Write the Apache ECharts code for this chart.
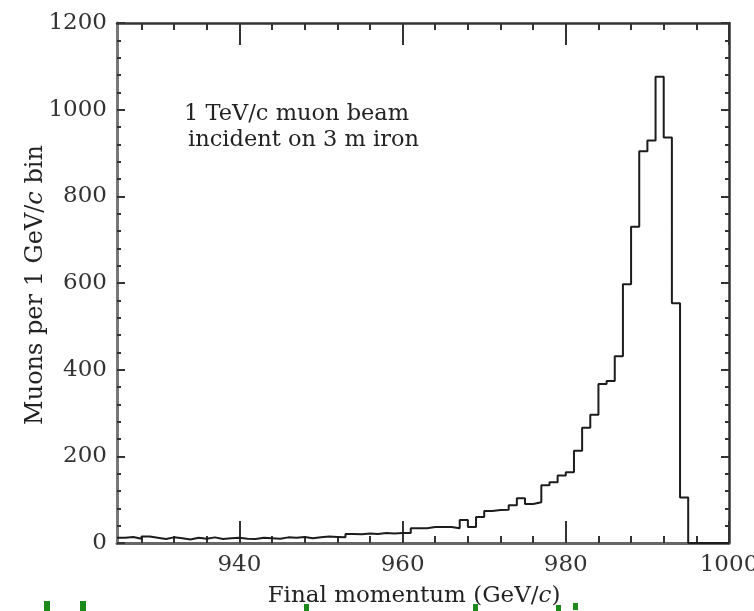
<!DOCTYPE html>
<html><head><meta charset="utf-8">
<script src="https://cdn.jsdelivr.net/npm/echarts@6/dist/echarts.min.js"></script>
<style>html,body{margin:0;padding:0;background:#fff}#c{width:754px;height:611px}</style>
</head><body><div id="c"></div>
<script>
// Histogram: 1 GeV/c bins starting at binStart
const binStart = 925;
const counts = [
  12, 14, 10, 15, 12, 9, 13, 11, 8, 12,      // 925-934
  10, 13, 9, 11, 12, 10, 9, 12, 11, 10,      // 935-944
  13, 12, 14, 11, 13, 15, 14, 13, 21, 20,    // 945-954
  22, 21, 23, 22, 23, 23, 34, 34, 37, 37,    // 955-964
  37, 34, 53, 37, 60, 74, 76, 77, 87, 103,   // 965-974
  90, 94, 133, 140, 156, 163, 213, 266, 296, 367, // 975-984
  374, 431, 597, 730, 904, 929, 1076, 936, 553, 105 // 985-994
];
const xMin = 925, xMax = 1000;
const xMajorTicks = [940, 960, 980, 1000];
const xMinorTicks = [928, 932, 936, 944, 948, 952, 956, 964, 968, 972, 976, 984, 988, 992, 996];
const yMin = 0, yMax = 1200, yStep = 200;
const annotationLines = ['1 TeV/c muon beam', 'incident on 3 m iron'];
const xTitle = 'Final momentum (GeV/{i|c})';
const yTitle = 'Muons per 1 GeV/{i|c} bin';

const serif = 'DejaVu Serif';
const pts = counts.map((c, i) => [binStart + i, c]);
pts.push([binStart + counts.length, 0]);
pts.push([xMax, 0]);

const chart = echarts.init(document.getElementById('c'), null, {renderer: 'canvas'});
const tickStyle = {color: '#333', width: 2};
const labelStyle = {fontFamily: serif, fontSize: 23, color: '#333', formatter: v => String(v)};
function xAx(pos, major, showLine, lineColor, lineWidth, showLabel) {
  return {
    type: 'value', position: pos, min: xMin, max: xMax,
    axisLine: {show: showLine, onZero: false, lineStyle: {color: lineColor, width: lineWidth}},
    axisTick: {show: true, inside: true, length: major ? 22 : 7, lineStyle: tickStyle,
               customValues: major ? xMajorTicks : xMinorTicks},
    axisLabel: showLabel ? Object.assign({show: true, margin: 11, customValues: xMajorTicks, hideOverlap: false}, labelStyle) : {show: false},
    splitLine: {show: false}
  };
}
function yAx(pos, showLabel, lineColor, lineWidth) {
  return {
    type: 'value', position: pos, min: yMin, max: yMax, interval: yStep,
    axisLine: {show: true, onZero: false, lineStyle: {color: lineColor, width: lineWidth}},
    axisTick: {show: true, inside: true, length: 8, lineStyle: tickStyle},
    minorTick: {show: true, splitNumber: 5, length: 4, lineStyle: tickStyle},
    axisLabel: showLabel ? Object.assign({show: true, margin: 10}, labelStyle) : {show: false},
    splitLine: {show: false}
  };
}
const green = '#1b8a1b';
chart.setOption({
  animation: false,
  backgroundColor: '#fff',
  grid: {left: 117, right: 25, top: 23, bottom: 68, containLabel: false, outerBoundsMode: 'none'},
  xAxis: [
    xAx('bottom', true, true, '#666', 3, true),
    xAx('bottom', false, false, '#666', 3, false),
    xAx('top', true, true, '#333', 2.5, false),
    xAx('top', false, false, '#333', 2.5, false)
  ],
  yAxis: [
    yAx('left', true, '#777', 3),
    yAx('right', false, '#333', 2.5)
  ],
  series: [{
    type: 'line', xAxisIndex: 0, yAxisIndex: 0, step: 'end', data: pts,
    showSymbol: false, symbol: 'none',
    lineStyle: {color: '#1c1c1c', width: 2}
  }],
  graphic: [
    {type: 'text', left: 184, top: 103, style: {text: annotationLines[0], font: '22.5px "DejaVu Serif"', fill: '#222'}},
    {type: 'text', left: 188, top: 129, style: {text: annotationLines[1], font: '22.5px "DejaVu Serif"', fill: '#222'}},
    {type: 'text', x: 414, y: 596, style: {text: xTitle, fill: '#222', align: 'center', verticalAlign: 'middle',
      font: '23px "DejaVu Serif"', rich: {i: {fontStyle: 'italic', fontFamily: serif, fontSize: 23, fill: '#222'}}}},
    {type: 'text', x: 36, y: 285, rotation: Math.PI / 2, style: {text: yTitle, fill: '#222', align: 'center', verticalAlign: 'middle',
      font: '24px "DejaVu Serif"', rich: {i: {fontStyle: 'italic', fontFamily: serif, fontSize: 24, fill: '#222'}}}},
    {type: 'rect', shape: {x: 44, y: 601, width: 6, height: 10}, style: {fill: green}},
    {type: 'rect', shape: {x: 80, y: 601, width: 6, height: 10}, style: {fill: green}},
    {type: 'rect', shape: {x: 304, y: 604, width: 5, height: 7}, style: {fill: green}},
    {type: 'rect', shape: {x: 473, y: 604, width: 5, height: 7}, style: {fill: green}},
    {type: 'rect', shape: {x: 556, y: 605, width: 5, height: 6}, style: {fill: green}},
    {type: 'rect', shape: {x: 573, y: 603, width: 5, height: 7}, style: {fill: green}}
  ]
});
</script></body></html>
